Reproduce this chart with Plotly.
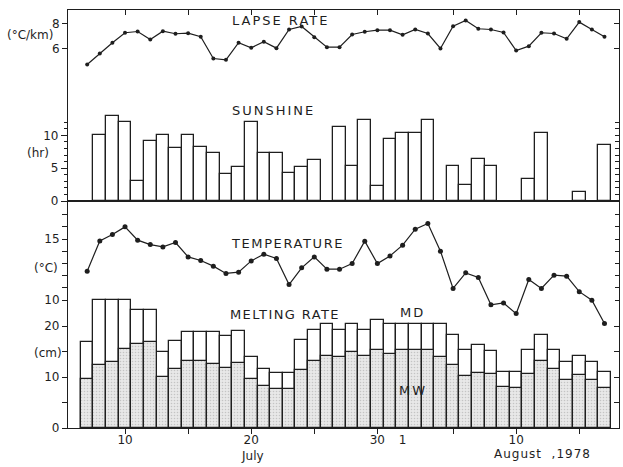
import plotly.graph_objects as go

# ---------------- data (day of month counted from 1 July; 32 = 1 August) -------------
days = list(range(7, 49))

lapse_rate = [4.74, 5.62, 6.48, 7.28, 7.38, 6.74, 7.41, 7.20, 7.25, 6.96,
              5.22, 5.12, 6.48, 6.08, 6.56, 6.05, 7.54, 7.78, 6.92, 6.13,
              6.13, 7.14, 7.36, 7.49, 7.49, 7.12, 7.54, 7.22, 6.02, 7.81,
              8.26, 7.60, 7.54, 7.30, 5.86, 6.21, 7.28, 7.22, 6.80, 8.13,
              7.54, 6.96]

sunshine = [None, 10.0, 13.0, 12.0, 3.0, 9.1, 10.1, 8.1, 10.1, 8.2,
            7.3, 4.1, 5.2, 12.1, 7.3, 7.3, 4.2, 5.2, 6.2, None,
            11.2, 5.3, 12.3, 2.3, 9.4, 10.3, 10.3, 12.3, None, 5.3,
            2.4, 6.45, 5.3, None, None, 3.4, 10.4, None, None, 1.4,
            None, 8.6]

temperature = [12.38, 14.86, 15.38, 16.01, 14.92, 14.56, 14.37, 14.73, 13.55, 13.25,
               12.79, 12.19, 12.30, 13.22, 13.77, 13.42, 11.28, 12.65, 13.55, 12.54,
               12.54, 13.00, 14.84, 13.00, 13.63, 14.51, 15.82, 16.28, 14.02, 10.96,
               12.24, 11.86, 9.62, 9.77, 8.90, 11.70, 10.96, 12.05, 11.97, 10.70,
               10.00, 8.09]

melt_md = [16.8, 25.1, 25.1, 25.1, 23.2, 23.2, 14.9, 17.0, 18.9, 18.9,
           18.9, 18.1, 19.0, 13.9, 11.6, 10.7, 10.7, 17.2, 19.3, 20.3,
           19.3, 20.3, 19.3, 21.2, 20.3, 20.3, 20.3, 20.3, 20.3, 18.3,
           15.2, 16.2, 15.1, 10.9, 10.9, 15.2, 18.3, 15.2, 13.0, 14.1,
           13.0, 10.9]

melt_mw = [9.6, 12.3, 12.9, 15.5, 16.4, 16.8, 10.0, 11.6, 13.1, 13.1,
           12.5, 11.8, 12.8, 9.6, 8.3, 7.7, 7.7, 11.3, 13.1, 14.2,
           13.9, 14.9, 14.2, 15.2, 14.5, 15.2, 15.3, 15.2, 13.9, 12.3,
           10.1, 10.7, 10.6, 8.0, 7.8, 10.5, 13.1, 11.5, 9.4, 10.3,
           9.4, 7.9]

x_label_days = [10, 20, 30, 32, 41]
x_label_text = ["10", "20", "30", "1", "10"]
x_mark_days = [5, 10, 15, 20, 25, 30, 36, 41, 46]

lapse_ticks = [6, 8]
sun_major = [0, 5, 10]
sun_minor = [1, 2, 3, 4, 6, 7, 8, 9, 11, 12]
temp_ticks = [10, 11, 12, 13, 14, 15, 16, 17]
temp_text = ["10", "", "", "", "", "15", "", ""]
melt_ticks = [0, 5, 10, 15, 20]
melt_text = ["0", "", "10", "", "20"]

# ---------------- layout geometry ----------------
W, H = 623, 467
ML, MR, MT, MB = 68, 4, 10, 39
PH = H - MT - MB
SPLIT = (428 - 201) / PH

X_RANGE = [5.48, 49.15]
MELT_RANGE = [0, 44.51]
TEMP_RANGE = [-0.475, 18.13]
SUN_RANGE = [0, 29.07]
LAPSE_RANGE = [-6.18, 9.10]

INK = "#1e1e1e"
FONT = "DejaVu Sans"
LW = 1.3

fig = go.Figure()

# melting rate (overlayed bars)
fig.add_trace(go.Bar(x=days, y=melt_md, xaxis="x", yaxis="y", width=1,
                     marker=dict(color="white", line=dict(color=INK, width=LW)),
                     showlegend=False, hoverinfo="skip"))
fig.add_trace(go.Bar(x=days, y=melt_mw, xaxis="x", yaxis="y", width=1,
                     marker=dict(color="#e8e8e8",
                                 pattern=dict(shape=".", fgcolor="#a0a0a0", bgcolor="#e8e8e8",
                                              size=3, solidity=0.22, fillmode="overlay"),
                                 line=dict(color=INK, width=LW)),
                     showlegend=False, hoverinfo="skip"))
# temperature
fig.add_trace(go.Scatter(x=days, y=temperature, xaxis="x", yaxis="y2", mode="lines+markers",
                         line=dict(color=INK, width=1.2), marker=dict(color=INK, size=5),
                         showlegend=False, hoverinfo="skip"))
# sunshine
fig.add_trace(go.Bar(x=days, y=sunshine, xaxis="x2", yaxis="y3", width=1,
                     marker=dict(color="white", line=dict(color=INK, width=LW)),
                     showlegend=False, hoverinfo="skip"))
# lapse rate
fig.add_trace(go.Scatter(x=days, y=lapse_rate, xaxis="x2", yaxis="y4", mode="lines+markers",
                         line=dict(color=INK, width=1.2), marker=dict(color=INK, size=4),
                         showlegend=False, hoverinfo="skip"))

# empty helper traces so the tick-only axes get drawn
for xa, ya, yy in [("x3", "y", melt_md), ("x2", "y5", sunshine), ("x2", "y6", lapse_rate),
                   ("x", "y7", temperature), ("x", "y8", melt_md)]:
    fig.add_trace(go.Scatter(x=days, y=yy, xaxis=xa, yaxis=ya, mode="none",
                             showlegend=False, hoverinfo="skip"))

tickfont = dict(family=FONT, size=12, color=INK)
common = dict(showgrid=False, zeroline=False, tickcolor=INK, tickwidth=1.2, tickfont=tickfont)

fig.update_layout(
    width=W, height=H,
    margin=dict(l=ML, r=MR, t=MT, b=MB, pad=0),
    paper_bgcolor="white", plot_bgcolor="white",
    barmode="overlay", bargap=0,
    font=dict(family=FONT, color=INK),
    xaxis=dict(domain=[0, 1], anchor="y", range=X_RANGE, tickmode="array",
               tickvals=x_label_days, ticktext=x_label_text, ticks="",
               showline=True, linecolor=INK, linewidth=LW, mirror=True, **common),
    xaxis2=dict(domain=[0, 1], anchor="y3", range=X_RANGE, side="top", tickmode="array",
                tickvals=x_mark_days, ticks="inside", ticklen=5, showticklabels=False,
                showline=True, linecolor=INK, linewidth=LW, mirror=True, **common),
    xaxis3=dict(overlaying="x", anchor="y", range=X_RANGE, side="bottom", tickmode="array",
                tickvals=x_mark_days, ticks="outside", ticklen=5, showticklabels=False,
                showline=False, **common),
    yaxis=dict(domain=[0, SPLIT], anchor="x", range=MELT_RANGE, tickmode="array",
               tickvals=melt_ticks, ticktext=melt_text, ticks="outside", ticklen=5,
               showline=True, linecolor=INK, linewidth=LW, mirror=True, **common),
    yaxis2=dict(overlaying="y", anchor="x", side="left", range=TEMP_RANGE, tickmode="array",
                tickvals=temp_ticks, ticktext=temp_text, ticks="outside", ticklen=5,
                showline=False, **common),
    yaxis3=dict(domain=[SPLIT, 1], anchor="x2", range=SUN_RANGE, tickmode="array",
                tickvals=sun_major, ticks="outside", ticklen=6,
                minor=dict(tickmode="array", tickvals=sun_minor, ticks="outside", ticklen=3,
                           tickcolor=INK, tickwidth=1),
                showline=True, linecolor=INK, linewidth=LW, mirror=True, **common),
    yaxis4=dict(overlaying="y3", anchor="x2", side="left", range=LAPSE_RANGE, tickmode="array",
                tickvals=lapse_ticks, ticks="outside", ticklen=5, showline=False, **common),
    yaxis5=dict(overlaying="y3", anchor="x2", side="right", range=SUN_RANGE, tickmode="array",
                tickvals=sun_major + sun_minor, ticks="inside", ticklen=4,
                showticklabels=False, showline=False, **common),
    yaxis6=dict(overlaying="y3", anchor="x2", side="right", range=LAPSE_RANGE, tickmode="array",
                tickvals=lapse_ticks, ticks="inside", ticklen=5,
                showticklabels=False, showline=False, **common),
    yaxis7=dict(overlaying="y", anchor="x", side="right", range=TEMP_RANGE, tickmode="array",
                tickvals=temp_ticks, ticks="inside", ticklen=4,
                showticklabels=False, showline=False, **common),
    yaxis8=dict(overlaying="y", anchor="x", side="right", range=MELT_RANGE, tickmode="array",
                tickvals=melt_ticks, ticks="inside", ticklen=5,
                showticklabels=False, showline=False, **common),
)

PW = W - ML - MR


def px_x(x):
    return (x - ML) / PW


def px_y(y):
    return (428 - y) / PH


def spaced(t, s):
    return '<span style="letter-spacing:%spx">%s</span>' % (s, t)


labels = [
    (spaced("LAPSE RATE", 2), 280, 20.7, 13),
    (spaced("SUNSHINE", 2), 273, 110.7, 13),
    (spaced("TEMPERATURE", 1.6), 287.5, 243.3, 13),
    (spaced("MELTING RATE", 1.4), 285, 314, 13),
    (spaced("MD", 2), 412, 312.7, 13),
    (spaced("MW", 2), 413, 390, 13),
    ("(°C/km)", 30, 35, 12),
    ("(hr)", 38, 152.7, 12),
    ("(°C)", 45.5, 268, 12),
    ("(cm)", 47.5, 352.7, 12),
    ("July", 252, 456, 12),
    (spaced("August  ,1978", 1), 542, 454.3, 12),
]
for text, x, y, s in labels:
    fig.add_annotation(text=text, x=px_x(x), y=px_y(y), xref="paper", yref="paper",
                       xanchor="center", yanchor="middle", showarrow=False,
                       font=dict(family=FONT, size=s, color=INK))

fig.write_html("out.html")
